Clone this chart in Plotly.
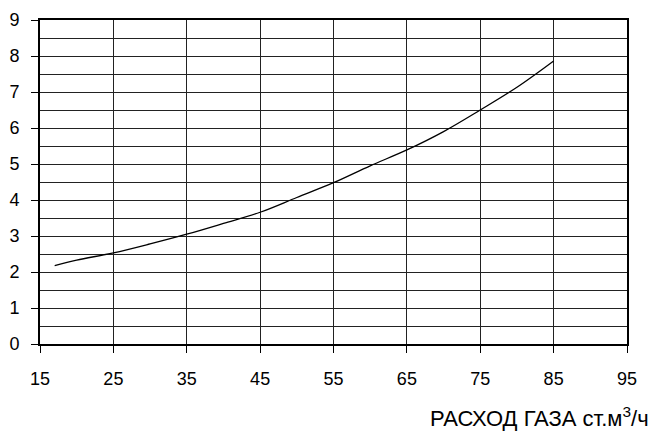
import plotly.graph_objects as go

flow = [17, 20, 25, 30, 35, 40, 45, 50, 55, 60, 65, 70, 75, 80, 85]
pressure = [2.18, 2.33, 2.53, 2.78, 3.05, 3.35, 3.66, 4.07, 4.48, 4.95, 5.39, 5.9, 6.5, 7.13, 7.86]
x_ticks = [15, 25, 35, 45, 55, 65, 75, 85, 95]
y_ticks = list(range(0, 10))
x_title = "РАСХОД ГАЗА ст.м<sup>3</sup>/ч"

fig = go.Figure()
fig.add_trace(go.Scatter(x=flow, y=pressure, mode="lines",
                         line=dict(color="black", width=1.3, shape="spline"),
                         showlegend=False, hoverinfo="skip"))

fig.update_layout(
    template="none",
    width=651, height=424,
    margin=dict(l=32, r=32, t=12, b=88, pad=0, autoexpand=False),
    paper_bgcolor="white", plot_bgcolor="white",
    font=dict(family="Liberation Sans, Arial, sans-serif", color="black", size=18),
)
fig.update_xaxes(
    automargin=False,
    range=[15, 95], tickvals=x_ticks, ticktext=[str(v) for v in x_ticks],
    showgrid=True, gridcolor="#222", gridwidth=1,
    showline=True, linecolor="black", linewidth=2, mirror=True,
    ticks="outside", ticklen=7, tickwidth=1, tickcolor="black",
    ticklabelstandoff=10, zeroline=False,
    tickfont=dict(size=18),
)
fig.update_yaxes(
    automargin=False,
    range=[0, 9], tickvals=y_ticks,
    showgrid=True, gridcolor="#222", gridwidth=1,
    minor=dict(dtick=0.5, tick0=0, showgrid=True, gridcolor="#222", gridwidth=1, ticks=""),
    showline=True, linecolor="black", linewidth=2, mirror=True,
    ticks="outside", ticklen=7, tickwidth=1, tickcolor="black",
    ticklabelstandoff=8, zeroline=False,
    tickfont=dict(size=18),
)
fig.add_annotation(text=x_title, xref="paper", yref="paper",
                   x=1.0 + (643 - 619) / 587, y=(336 - 409) / 324,
                   xanchor="right", yanchor="middle", showarrow=False,
                   font=dict(size=22, color="black"))

fig.write_html("out.html")
